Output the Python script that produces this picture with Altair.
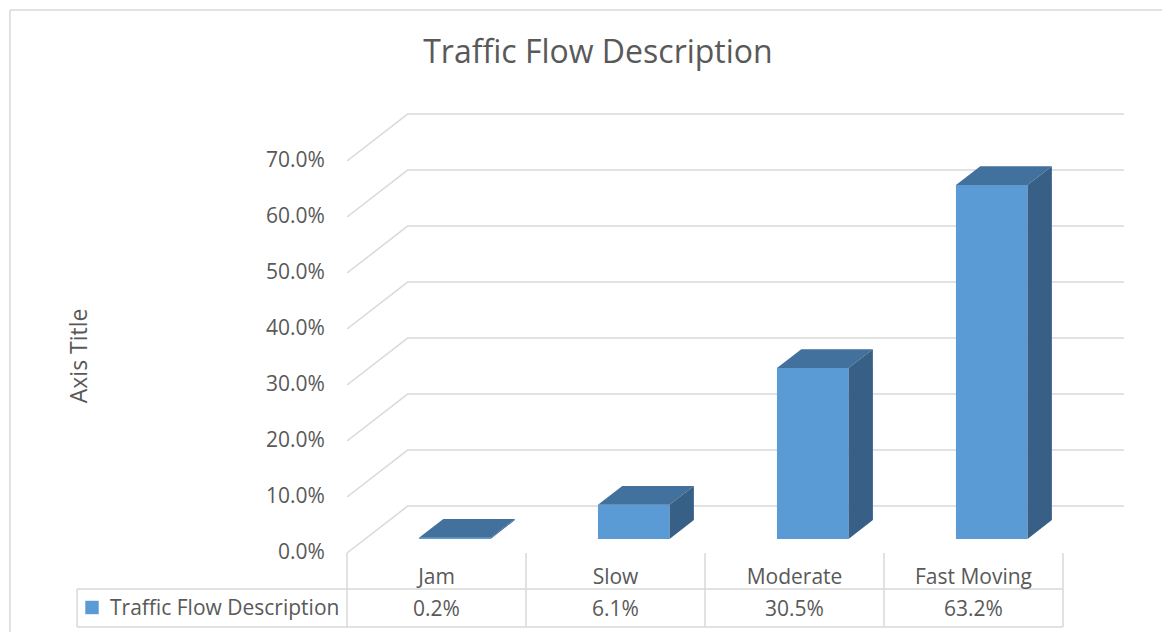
import altair as alt
import pandas as pd

# ---------------- data ----------------
title_text = "Traffic Flow Description"
axis_title = "Axis Title"
series_name = "Traffic Flow Description"
categories = ["Jam", "Slow", "Moderate", "Fast Moving"]
values = [0.2, 6.1, 30.5, 63.2]
value_labels = ["0.2%", "6.1%", "30.5%", "63.2%"]
y_ticks = [0, 10, 20, 30, 40, 50, 60, 70]
y_tick_labels = ["0.0%", "10.0%", "20.0%", "30.0%", "40.0%", "50.0%", "60.0%", "70.0%"]

# ---------------- style / projection ----------------
FRONT = "#5B9BD5"
TOP = "#41719C"
SIDE = "#386087"
GRID = "#D9D9D9"
TEXT = "#595959"
FONT = "Open Sans"

DEPTH_X = 0.34      # full floor depth, horizontal component (category units)
DEPTH_Y = 8.4       # full floor depth, vertical component (percent units)
BAR_D0, BAR_D1 = 0.3, 0.7   # bar occupies this slice of the depth
BAR_W = 0.4
N = len(categories)
ROW1_Y = -6.43      # table line between category row and value row
ROW2_Y = -13.21     # table bottom
LEG_X = -1.508      # left edge of legend cell

xs = alt.Scale(domain=[-1.8939, 4.5531], nice=False, zero=False)
ys = alt.Scale(domain=[-14.107, 97.321], nice=False, zero=False)


def X(f):
    return alt.X(f, type="quantitative", scale=xs, axis=None)


def Y(f):
    return alt.Y(f, type="quantitative", scale=ys, axis=None)


def X2(f):
    return alt.X2(f)


def Y2(f):
    return alt.Y2(f)


# ---------------- geometry tables built from data ----------------
dx0, dy0 = BAR_D0 * DEPTH_X, BAR_D0 * DEPTH_Y
bdx, bdy = (BAR_D1 - BAR_D0) * DEPTH_X, (BAR_D1 - BAR_D0) * DEPTH_Y

bar_rows, top_rows, side_rows = [], [], []
for i, (c, v) in enumerate(zip(categories, values)):
    x0 = i + 0.5 - BAR_W / 2 + dx0
    x1 = x0 + BAR_W
    base = dy0
    top = base + v
    bar_rows.append(dict(cat=c, x0=x0, x1=x1, base=base, top=top))
    top_rows.append(dict(cat=c, y=top, xa=x0, xb=x1))
    top_rows.append(dict(cat=c, y=top + bdy, xa=x0 + bdx, xb=x1 + bdx))
    side_rows.append(dict(cat=c, x=x1, ya=base, yb=top))
    side_rows.append(dict(cat=c, x=x1 + bdx, ya=base + bdy, yb=top + bdy))
bars = pd.DataFrame(bar_rows)
tops = pd.DataFrame(top_rows)
sides = pd.DataFrame(side_rows)

grid_rows = []
for t in y_ticks:
    grid_rows.append(dict(x=0, x2=DEPTH_X, y=t, y2=t + DEPTH_Y))
    grid_rows.append(dict(x=DEPTH_X, x2=N + DEPTH_X, y=t + DEPTH_Y, y2=t + DEPTH_Y))
grid = pd.DataFrame(grid_rows)

table_rows = []
for i in range(N + 1):
    table_rows.append(dict(x=i, x2=i, y=0, y2=ROW2_Y))
table_rows.append(dict(x=LEG_X, x2=LEG_X, y=ROW1_Y, y2=ROW2_Y))
table_rows.append(dict(x=LEG_X, x2=N, y=ROW1_Y, y2=ROW1_Y))
table_rows.append(dict(x=LEG_X, x2=N, y=ROW2_Y, y2=ROW2_Y))
# outer chart border (top and left edges)
table_rows.append(dict(x=-1.883, x2=4.5531, y=96.96, y2=96.96))
table_rows.append(dict(x=-1.883, x2=-1.883, y=96.96, y2=-14.107))
table = pd.DataFrame(table_rows)

ticks_df = pd.DataFrame(dict(y=y_ticks, label=y_tick_labels, x=[-0.123] * len(y_ticks)))
cat_df = pd.DataFrame(dict(x=[i + 0.5 for i in range(N)], label=categories, y=[-4.1] * N))
val_df = pd.DataFrame(dict(x=[i + 0.5 for i in range(N)], label=value_labels, y=[-9.82] * N))
leg_df = pd.DataFrame(dict(x=[-1.4246], y=[-9.73], tx=[-1.324], label=[series_name]))
title_df = pd.DataFrame(dict(x=[1.402], y=[89.3], label=[title_text]))
atitle_df = pd.DataFrame(dict(x=[-1.49], y=[35.2], label=[axis_title]))

# ---------------- layers ----------------
grid_l = alt.Chart(grid).mark_rule(color=GRID, strokeWidth=1.5).encode(
    x=X("x"), x2=X2("x2"), y=Y("y"), y2=Y2("y2"))
table_l = alt.Chart(table).mark_rule(color=GRID, strokeWidth=1.5).encode(
    x=X("x"), x2=X2("x2"), y=Y("y"), y2=Y2("y2"))

front_l = alt.Chart(bars).mark_rect(color=FRONT).encode(
    x=X("x0"), x2=X2("x1"), y=Y("base"), y2=Y2("top"))
top_l = alt.Chart(tops).mark_area(orient="horizontal", color=TOP).encode(
    y=Y("y"), x=X("xa"), x2=X2("xb"), detail="cat:N")
side_l = alt.Chart(sides).mark_area(orient="vertical", color=SIDE).encode(
    x=X("x"), y=Y("ya"), y2=Y2("yb"), detail="cat:N")

ticks_l = alt.Chart(ticks_df).mark_text(
    align="right", baseline="middle", dy=0, font=FONT, fontSize=21, color=TEXT).encode(
    x=X("x"), y=Y("y"), text="label:N")
cat_l = alt.Chart(cat_df).mark_text(
    align="center", baseline="middle", dy=2, font=FONT, fontSize=21, color=TEXT).encode(
    x=X("x"), y=Y("y"), text="label:N")
val_l = alt.Chart(val_df).mark_text(
    align="center", baseline="middle", dy=2, font=FONT, fontSize=21, color=TEXT).encode(
    x=X("x"), y=Y("y"), text="label:N")
leg_sq = alt.Chart(leg_df).mark_square(color=FRONT, size=180, opacity=1).encode(
    x=X("x"), y=Y("y"))
leg_tx = alt.Chart(leg_df).mark_text(
    align="left", baseline="middle", dy=2, font=FONT, fontSize=21, color=TEXT).encode(
    x=X("tx"), y=Y("y"), text="label:N")
title_l = alt.Chart(title_df).mark_text(
    align="center", baseline="middle", font=FONT, fontSize=32, color=TEXT).encode(
    x=X("x"), y=Y("y"), text="label:N")
atitle_l = alt.Chart(atitle_df).mark_text(
    align="center", baseline="middle", angle=270, font=FONT, fontSize=23, color=TEXT).encode(
    x=X("x"), y=Y("y"), text="label:N")

chart = alt.layer(
    grid_l, table_l, front_l, top_l, side_l,
    ticks_l, cat_l, val_l, leg_sq, leg_tx, title_l, atitle_l,
).properties(
    width=1154, height=624, padding=0, autosize="none", background="white",
).configure_view(stroke=None)

chart.save("out.html", embed_options={"renderer": "svg", "actions": False})
